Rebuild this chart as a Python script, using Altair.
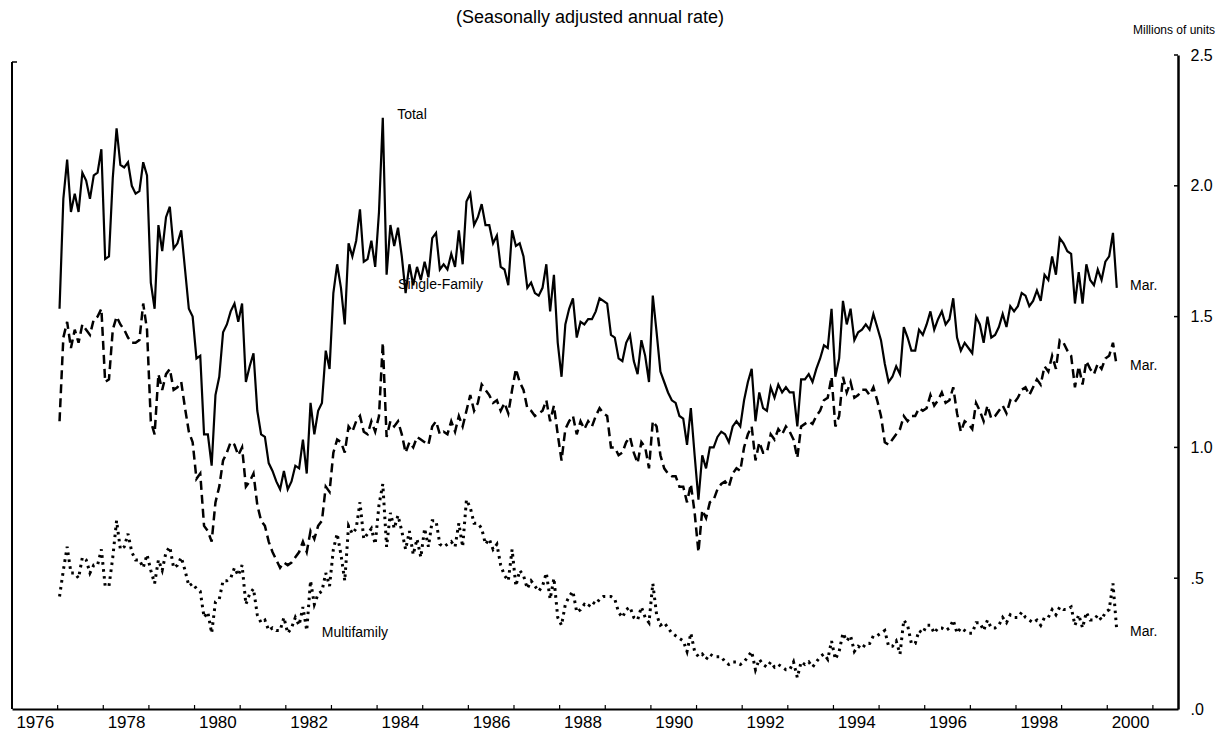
import altair as alt
import pandas as pd

# ---------------- data (millions of units, SAAR), monthly Jan 1977 - Mar 2000 ----------------
TOTAL = [
    1.53, 1.95, 2.10, 1.90, 1.97, 1.90, 2.05, 2.02, 1.95, 2.04, 2.05, 2.14,  # 1977
    1.72, 1.73, 2.03, 2.22, 2.08, 2.07, 2.09, 2.00, 1.97, 1.98, 2.09, 2.04,  # 1978
    1.63, 1.53, 1.85, 1.75, 1.88, 1.92, 1.76, 1.78, 1.83, 1.68, 1.53, 1.50,  # 1979
    1.34, 1.35, 1.05, 1.05, 0.93, 1.20, 1.27, 1.44, 1.47, 1.52, 1.55, 1.48,  # 1980
    1.55, 1.25, 1.31, 1.36, 1.14, 1.05, 1.04, 0.94, 0.91, 0.87, 0.84, 0.91,  # 1981
    0.84, 0.87, 0.93, 0.92, 1.03, 0.90, 1.17, 1.05, 1.14, 1.17, 1.37, 1.30,  # 1982
    1.59, 1.70, 1.61, 1.47, 1.78, 1.73, 1.79, 1.91, 1.71, 1.72, 1.79, 1.69,  # 1983
    1.90, 2.26, 1.66, 1.85, 1.77, 1.84, 1.73, 1.59, 1.70, 1.62, 1.69, 1.64,  # 1984
    1.71, 1.65, 1.80, 1.82, 1.68, 1.70, 1.68, 1.74, 1.69, 1.83, 1.70, 1.94,  # 1985
    1.97, 1.85, 1.88, 1.93, 1.85, 1.85, 1.78, 1.81, 1.69, 1.68, 1.62, 1.83,  # 1986
    1.77, 1.78, 1.73, 1.61, 1.63, 1.59, 1.58, 1.61, 1.70, 1.52, 1.66, 1.40,  # 1987
    1.27, 1.47, 1.53, 1.57, 1.42, 1.48, 1.47, 1.49, 1.49, 1.52, 1.57, 1.56,  # 1988
    1.55, 1.43, 1.42, 1.34, 1.33, 1.40, 1.43, 1.33, 1.28, 1.41, 1.35, 1.25,  # 1989
    1.58, 1.44, 1.29, 1.25, 1.21, 1.18, 1.17, 1.12, 1.11, 1.01, 1.15, 0.97,  # 1990
    0.80, 0.97, 0.92, 1.00, 1.00, 1.04, 1.06, 1.05, 1.02, 1.08, 1.10, 1.08,  # 1991
    1.18, 1.25, 1.30, 1.10, 1.21, 1.15, 1.14, 1.23, 1.19, 1.24, 1.21, 1.23,  # 1992
    1.21, 1.21, 1.08, 1.26, 1.26, 1.28, 1.25, 1.30, 1.34, 1.39, 1.38, 1.53,  # 1993
    1.27, 1.34, 1.56, 1.47, 1.53, 1.41, 1.44, 1.45, 1.47, 1.45, 1.51, 1.46,  # 1994
    1.41, 1.32, 1.25, 1.27, 1.31, 1.28, 1.46, 1.42, 1.37, 1.37, 1.45, 1.43,  # 1995
    1.47, 1.52, 1.45, 1.49, 1.52, 1.47, 1.49, 1.57, 1.42, 1.37, 1.40, 1.38,  # 1996
    1.36, 1.50, 1.47, 1.40, 1.50, 1.42, 1.43, 1.46, 1.51, 1.46, 1.54, 1.52,  # 1997
    1.54, 1.59, 1.58, 1.54, 1.56, 1.60, 1.56, 1.66, 1.64, 1.73, 1.66, 1.80,  # 1998
    1.78, 1.75, 1.74, 1.55, 1.67, 1.55, 1.70, 1.64, 1.62, 1.68, 1.64, 1.71,  # 1999
    1.73, 1.82, 1.61,                                                        # 2000
]

SINGLE = [
    1.10, 1.42, 1.48, 1.38, 1.45, 1.40, 1.47, 1.45, 1.43, 1.49, 1.50, 1.53,
    1.25, 1.26, 1.45, 1.50, 1.47, 1.45, 1.42, 1.40, 1.40, 1.41, 1.55, 1.45,
    1.10, 1.05, 1.28, 1.22, 1.28, 1.30, 1.22, 1.23, 1.25, 1.15, 1.06, 1.02,
    0.88, 0.90, 0.70, 0.68, 0.64, 0.79, 0.85, 0.95, 0.98, 1.02, 1.01, 0.97,
    1.00, 0.85, 0.87, 0.90, 0.78, 0.72, 0.70, 0.64, 0.60, 0.57, 0.54, 0.56,
    0.55, 0.56, 0.58, 0.60, 0.64, 0.60, 0.68, 0.65, 0.70, 0.72, 0.85, 0.83,
    0.98, 1.03, 1.02, 0.98, 1.08, 1.06, 1.10, 1.12, 1.06, 1.05, 1.10, 1.06,
    1.12, 1.40, 1.04, 1.10, 1.08, 1.10, 1.05, 0.98, 1.02, 1.00, 1.04, 1.03,
    1.02, 1.01, 1.08, 1.10, 1.05, 1.06, 1.05, 1.10, 1.06, 1.12, 1.08, 1.14,
    1.20, 1.14, 1.17, 1.24, 1.22, 1.20, 1.17, 1.18, 1.14, 1.17, 1.13, 1.22,
    1.30, 1.25, 1.22, 1.15, 1.14, 1.12, 1.13, 1.14, 1.18, 1.10, 1.16, 1.05,
    0.95, 1.07, 1.10, 1.12, 1.05, 1.10, 1.07, 1.10, 1.08, 1.12, 1.15, 1.13,
    1.12, 1.00, 1.00, 0.97, 0.98, 1.02, 1.04, 0.98, 0.94, 1.02, 1.00, 0.92,
    1.10, 1.08, 0.97, 0.92, 0.90, 0.89, 0.89, 0.85, 0.85, 0.79, 0.86, 0.75,
    0.60, 0.76, 0.73, 0.79, 0.80, 0.84, 0.86, 0.87, 0.85, 0.90, 0.92, 0.91,
    1.00, 1.05, 1.08, 0.95, 1.02, 0.98, 0.98, 1.05, 1.03, 1.07, 1.05, 1.08,
    1.06, 1.03, 0.96, 1.08, 1.09, 1.10, 1.09, 1.12, 1.14, 1.18, 1.19, 1.27,
    1.08, 1.12, 1.27, 1.21, 1.25, 1.19, 1.20, 1.22, 1.22, 1.20, 1.23, 1.18,
    1.12, 1.02, 1.01, 1.03, 1.05, 1.07, 1.12, 1.10, 1.12, 1.12, 1.15, 1.14,
    1.15, 1.20, 1.16, 1.18, 1.21, 1.17, 1.18, 1.23, 1.13, 1.06, 1.10, 1.09,
    1.07, 1.17, 1.14, 1.10, 1.16, 1.11, 1.12, 1.14, 1.16, 1.13, 1.18, 1.17,
    1.19, 1.22, 1.23, 1.20, 1.23, 1.26, 1.24, 1.31, 1.29, 1.35, 1.30, 1.41,
    1.40, 1.37, 1.35, 1.23, 1.31, 1.24, 1.33, 1.30, 1.28, 1.32, 1.30, 1.34,
    1.35, 1.40, 1.31,
]

MULTI = [
    0.43, 0.53, 0.62, 0.52, 0.52, 0.50, 0.58, 0.57, 0.52, 0.55, 0.55, 0.61,
    0.47, 0.47, 0.58, 0.72, 0.61, 0.62, 0.67, 0.60, 0.57, 0.57, 0.54, 0.59,
    0.53, 0.48, 0.57, 0.53, 0.60, 0.62, 0.54, 0.55, 0.58, 0.53, 0.47, 0.48,
    0.46, 0.45, 0.35, 0.37, 0.29, 0.41, 0.42, 0.49, 0.49, 0.50, 0.54, 0.51,
    0.55, 0.40, 0.44, 0.46, 0.36, 0.33, 0.34, 0.30, 0.31, 0.30, 0.30, 0.35,
    0.29, 0.31, 0.35, 0.32, 0.39, 0.30, 0.49, 0.40, 0.44, 0.45, 0.52, 0.47,
    0.61, 0.67, 0.59, 0.49, 0.70, 0.67, 0.69, 0.79, 0.65, 0.67, 0.69, 0.63,
    0.78, 0.86, 0.62, 0.75, 0.69, 0.74, 0.68, 0.61, 0.68, 0.59, 0.65, 0.58,
    0.69, 0.62, 0.72, 0.72, 0.63, 0.62, 0.63, 0.64, 0.62, 0.71, 0.62, 0.80,
    0.77, 0.71, 0.71, 0.69, 0.63, 0.65, 0.61, 0.63, 0.55, 0.51, 0.49, 0.61,
    0.47, 0.53, 0.51, 0.46, 0.49, 0.47, 0.45, 0.47, 0.52, 0.42, 0.50, 0.35,
    0.32, 0.40, 0.43, 0.45, 0.37, 0.38, 0.40, 0.39, 0.41, 0.40, 0.42, 0.43,
    0.43, 0.43, 0.42, 0.37, 0.35, 0.38, 0.39, 0.35, 0.34, 0.39, 0.35, 0.33,
    0.48, 0.36, 0.32, 0.33, 0.31, 0.29, 0.28, 0.27, 0.26, 0.22, 0.29, 0.22,
    0.20, 0.21, 0.19, 0.21, 0.20, 0.20, 0.20, 0.18, 0.17, 0.18, 0.18, 0.17,
    0.18, 0.20, 0.22, 0.15, 0.19, 0.17, 0.16, 0.18, 0.16, 0.17, 0.16, 0.15,
    0.15, 0.18, 0.12, 0.18, 0.17, 0.18, 0.16, 0.18, 0.20, 0.21, 0.19, 0.26,
    0.19, 0.22, 0.29, 0.26, 0.28, 0.22, 0.24, 0.23, 0.25, 0.25, 0.28, 0.28,
    0.29, 0.30, 0.24, 0.24, 0.26, 0.21, 0.34, 0.32, 0.25, 0.25, 0.30, 0.29,
    0.32, 0.32, 0.29, 0.31, 0.31, 0.30, 0.31, 0.34, 0.29, 0.31, 0.30, 0.29,
    0.29, 0.33, 0.33, 0.30, 0.34, 0.31, 0.31, 0.32, 0.35, 0.33, 0.36, 0.35,
    0.35, 0.37, 0.35, 0.34, 0.33, 0.34, 0.32, 0.35, 0.35, 0.38, 0.36, 0.39,
    0.38, 0.38, 0.39, 0.32, 0.36, 0.31, 0.37, 0.34, 0.34, 0.36, 0.34, 0.37,
    0.38, 0.48, 0.30,
]

START_YEAR = 1977
YEAR_TICKS = list(range(1977, 2002))
YEAR_LABELS = list(range(1976, 2001, 2))
Y_TICKS = [0.0, 0.5, 1.0, 1.5, 2.0, 2.5]
Y_LABELS = [".0", ".5", "1.0", "1.5", "2.0", "2.5"]

TITLE = "(Seasonally adjusted annual rate)"
UNITS = "Millions of units"
ANN_TEXT = ["Total", "Single-Family", "Multifamily", "Mar.", "Mar.", "Mar."]
ANN_X = [1984.44, 1984.46, 1982.79, 2000.50, 2000.50, 2000.50]
ANN_Y = [2.27, 1.62, 0.29, 1.617, 1.311, 0.294]

FONT = "Liberation Sans"
W, H = 1166, 654


def series_df(vals):
    return pd.DataFrame({
        "yr": [START_YEAR + (i + 0.5) / 12 for i in range(len(vals))],
        "val": vals,
    })


label_expr = "indexof([" + ",".join(str(y) for y in YEAR_LABELS) + "], datum.value) >= 0 ? toString(datum.value) : ''"
ylabel_expr = "[" + ",".join("'" + s + "'" for s in Y_LABELS) + "][round(datum.value * 2)]"

X = alt.X(
    "yr:Q",
    scale=alt.Scale(domain=[1976, 2001.55], nice=False, zero=False),
    axis=alt.Axis(
        values=list(range(1976, 2001)), labelExpr=label_expr, labelOffset=22.8,
        ticks=False, tickSize=0, grid=False, title=None, labelPadding=5,
        labelFontSize=17, labelFont=FONT, labelColor="black",
        domainColor="black", domainWidth=2, labelFlush=False, labelOverlap=False,
    ),
)
Y = alt.Y(
    "val:Q",
    scale=alt.Scale(domain=[0, 2.5], nice=False),
    axis=alt.Axis(
        orient="right", values=Y_TICKS, labelExpr=ylabel_expr, ticks=False, tickSize=0,
        grid=False, title=None, labelPadding=12, labelFontSize=16, labelFont=FONT,
        labelColor="black", domainColor="black", domainWidth=2.5, labelAlign="left",
        labelFlush=False, labelOverlap=False,
    ),
)

total = alt.Chart(series_df(TOTAL)).mark_line(color="black", strokeWidth=2.2).encode(x=X, y=Y)
single = alt.Chart(series_df(SINGLE)).mark_line(
    color="black", strokeWidth=2.5, strokeDash=[9, 5], strokeCap="butt"
).encode(x=X, y=Y)
multi = alt.Chart(series_df(MULTI)).mark_line(
    color="black", strokeWidth=3, strokeDash=[2.6, 4.4], strokeCap="butt"
).encode(x=X, y=Y)

ann = alt.Chart(pd.DataFrame({"yr": ANN_X, "val": ANN_Y, "t": ANN_TEXT})).mark_text(
    align="left", baseline="middle", fontSize=14, font=FONT, color="black"
).encode(x=X, y=Y, text="t:N")

xticks = alt.Chart(pd.DataFrame({"yr": YEAR_TICKS})).mark_rule(color="black", strokeWidth=1.2).encode(
    x=X, y=alt.value(H), y2=alt.value(H - 4)
)
yticks = alt.Chart(pd.DataFrame({"val": Y_TICKS[1:]})).mark_rule(color="black", strokeWidth=1.5).encode(
    y=Y, x=alt.value(W), x2=alt.value(W - 4)
)
left_line = alt.Chart(pd.DataFrame({"k": [0]})).mark_rule(color="black", strokeWidth=2).encode(
    x=alt.value(0), y=alt.value(7), y2=alt.value(H)
)
left_tick = alt.Chart(pd.DataFrame({"k": [0]})).mark_rule(color="black", strokeWidth=1.5).encode(
    x=alt.value(0), x2=alt.value(5), y=alt.value(7)
)

title = alt.Chart(pd.DataFrame({"t": [TITLE]})).mark_text(
    align="center", baseline="top", fontSize=18, font=FONT, color="black"
).encode(x=alt.value(578), y=alt.value(-46), text="t:N")
units = alt.Chart(pd.DataFrame({"t": [UNITS]})).mark_text(
    align="right", baseline="middle", fontSize=12, font=FONT, color="black"
).encode(x=alt.value(1203), y=alt.value(-25), text="t:N")

chart = alt.layer(
    left_line, left_tick, xticks, yticks, total, single, multi, ann, title, units
).properties(
    width=W, height=H,
    autosize=alt.AutoSizeParams(type="none"),
    padding={"left": 4, "top": 47, "right": 39, "bottom": 22},
    background="white",
).configure_view(stroke=None)

chart.save("out.html", embed_options={"renderer": "svg", "actions": False})
